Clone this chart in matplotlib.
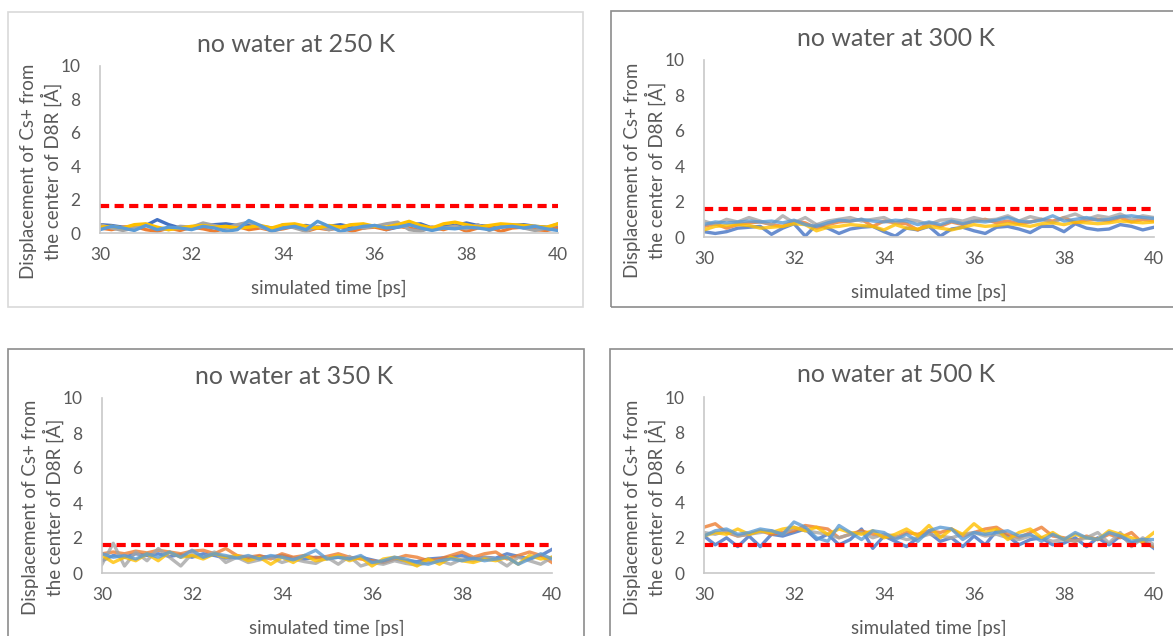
import numpy as np
import matplotlib
matplotlib.use("Agg")
import matplotlib.pyplot as plt
from matplotlib.patches import Rectangle

plt.rcParams['font.family'] = ['Lato', 'DejaVu Sans']

# tempo simulado (ps), passo de 0.25
tempo = np.linspace(30, 40, 41)
limite = 1.6  # linha vermelha tracejada

titulos = ["no water at 250 K", "no water at 300 K", "no water at 350 K", "no water at 500 K"]
cores = ["#4472C4", "#ED7D31", "#A5A5A5", "#FFC000", "#5B9BD5"]

# 250 K
k250_azul = [0.5,0.45,0.35,0.3,0.45,0.8,0.5,0.3,0.3,0.45,0.5,0.55,0.45,0.5,0.4,0.3,0.35,0.4,0.45,0.3,0.4,0.5,0.35,0.3,0.45,0.2,0.35,0.5,0.55,0.3,0.4,0.45,0.6,0.45,0.4,0.35,0.45,0.5,0.4,0.35,0.3]
k250_laranja = [0.3,0.2,0.35,0.4,0.2,0.1,0.3,0.15,0.35,0.25,0.1,0.3,0.4,0.2,0.3,0.15,0.25,0.4,0.1,0.3,0.2,0.35,0.1,0.3,0.35,0.2,0.4,0.3,0.15,0.35,0.2,0.4,0.1,0.3,0.35,0.1,0.3,0.35,0.2,0.15,0.3]
k250_cinza = [0.5,0.3,0.15,0.3,0.45,0.3,0.2,0.4,0.35,0.6,0.45,0.3,0.5,0.65,0.35,0.2,0.5,0.3,0.1,0.4,0.2,0.35,0.5,0.3,0.4,0.55,0.65,0.2,0.1,0.35,0.3,0.4,0.25,0.5,0.15,0.4,0.5,0.3,0.15,0.3,0.55]
k250_amarelo = [0.35,0.4,0.3,0.5,0.55,0.35,0.2,0.3,0.4,0.45,0.35,0.4,0.3,0.35,0.45,0.3,0.5,0.55,0.4,0.3,0.45,0.35,0.5,0.55,0.4,0.35,0.5,0.7,0.45,0.3,0.55,0.65,0.5,0.35,0.45,0.55,0.5,0.45,0.4,0.35,0.55]
k250_celeste = [0.2,0.4,0.3,0.15,0.45,0.2,0.35,0.3,0.2,0.4,0.3,0.1,0.2,0.75,0.45,0.1,0.3,0.4,0.2,0.7,0.4,0.1,0.25,0.4,0.45,0.3,0.35,0.5,0.3,0.15,0.3,0.25,0.35,0.3,0.2,0.35,0.4,0.3,0.4,0.25,0.15]

# 300 K
k300_azul = [0.3,0.2,0.3,0.5,0.55,0.6,0.15,0.5,0.75,0.05,0.7,0.5,0.2,0.45,0.55,0.6,0.3,0.05,0.5,0.4,0.6,0.05,0.45,0.55,0.35,0.2,0.55,0.6,0.45,0.25,0.6,0.6,0.3,0.75,0.5,0.4,0.45,0.7,0.6,0.4,0.55]
k300_laranja = [0.6,0.75,0.5,0.7,0.8,0.85,0.7,0.6,0.9,0.8,0.5,0.7,0.85,0.9,1.0,0.6,0.9,0.8,0.75,0.4,0.8,0.6,0.85,0.7,0.9,1.0,0.8,0.9,0.75,0.85,1.0,0.9,1.1,0.8,0.95,1.0,0.9,1.1,0.85,1.0,0.9]
k300_cinza = [0.9,0.7,1.0,0.85,1.1,0.9,0.7,1.2,0.8,1.1,0.7,0.9,1.0,1.1,0.9,1.0,1.1,0.8,1.0,0.9,0.7,0.95,1.0,0.9,1.1,0.95,1.0,1.2,0.9,1.15,1.0,0.8,1.1,1.3,1.0,1.2,1.1,1.3,1.0,1.2,1.1]
k300_amarelo = [0.4,0.6,0.65,0.7,0.65,0.5,0.55,0.6,0.75,0.7,0.35,0.55,0.6,0.7,0.65,0.6,0.4,0.7,0.5,0.45,0.6,0.5,0.4,0.55,0.7,0.6,0.65,0.75,0.7,0.6,0.75,0.8,0.7,0.85,0.8,0.75,0.8,0.9,0.85,0.8,0.85]
k300_celeste = [0.7,0.85,0.8,0.85,0.9,0.85,0.9,0.8,0.95,0.7,0.6,0.8,0.95,0.9,1.0,0.9,0.85,0.95,0.9,0.7,0.85,0.7,0.9,0.75,0.9,0.85,0.95,1.1,0.9,0.85,0.95,1.2,0.9,1.0,1.1,0.95,1.0,1.15,1.2,1.1,1.05]

# 350 K
k350_azul = [0.7,1.0,0.9,1.1,1.0,1.1,0.95,1.05,0.9,1.1,1.0,0.85,0.9,0.8,0.95,0.9,1.0,0.85,0.8,0.9,0.85,0.9,0.8,0.9,0.75,0.6,0.8,0.7,0.65,0.8,0.85,0.9,1.0,0.8,0.9,0.85,1.1,0.95,0.8,1.0,1.35]
k350_laranja = [1.1,1.2,1.1,1.25,1.15,1.3,1.2,1.1,1.25,1.3,1.1,1.4,1.0,0.9,1.0,0.8,1.1,0.9,1.0,0.85,0.95,1.1,0.9,0.8,0.7,0.6,0.8,1.0,0.9,0.7,0.8,1.0,1.2,0.9,1.1,1.2,0.8,1.0,1.2,1.0,0.6]
k350_cinza = [0.5,1.7,0.4,1.2,0.7,1.4,0.9,0.4,1.1,0.9,1.2,0.6,0.9,0.6,0.75,0.9,0.6,0.8,0.65,0.55,0.9,0.5,0.95,0.4,0.6,0.5,0.7,0.55,0.45,0.6,0.7,0.5,0.8,0.7,0.9,0.8,0.4,0.9,0.7,0.5,0.9]
k350_amarelo = [1.0,0.6,0.9,0.7,1.1,0.7,1.2,0.9,1.0,0.8,1.1,0.9,1.0,0.7,0.9,0.5,0.9,0.6,1.0,0.7,0.8,1.0,0.7,0.9,0.4,0.8,0.9,0.7,0.4,0.8,0.5,0.9,0.7,0.6,0.8,0.7,0.9,0.5,1.0,0.8,0.9]
k350_celeste = [1.1,0.9,1.0,0.8,1.1,0.9,1.2,0.9,1.3,0.9,1.1,1.0,0.85,1.0,0.8,1.0,0.9,0.75,1.0,1.3,0.8,0.9,0.8,1.0,0.6,0.7,0.9,0.8,0.6,0.5,0.7,0.8,0.7,0.85,0.7,0.8,0.9,0.5,0.8,1.1,0.8]

# 500 K
k500_azul = [2.1,1.6,2.0,1.5,2.1,1.5,2.2,2.1,2.3,2.5,1.9,2.2,1.6,1.9,2.5,1.4,2.1,1.8,1.5,2.0,2.3,1.8,2.0,1.5,2.1,1.6,2.4,2.1,1.6,1.9,2.0,1.6,1.7,2.0,1.5,2.0,1.6,2.1,1.7,1.9,1.4]
k500_laranja = [2.6,2.8,2.3,2.1,2.2,2.4,2.2,2.3,2.4,2.7,2.6,2.5,2.0,2.2,2.4,2.2,2.1,2.0,2.3,2.2,2.4,2.3,2.5,2.1,2.3,2.5,2.6,2.2,2.0,2.3,2.6,2.1,2.0,1.8,2.1,1.9,2.2,2.0,2.3,1.7,1.5]
k500_cinza = [2.3,2.2,2.4,2.1,2.2,2.3,2.4,2.2,2.6,2.4,2.3,2.2,2.0,2.2,2.3,2.0,2.2,2.1,1.9,2.0,2.2,2.1,2.0,2.2,2.3,2.1,2.2,2.0,1.9,2.1,2.0,1.8,1.9,1.8,2.0,2.3,1.7,2.3,1.5,2.0,1.6]
k500_amarelo = [2.1,2.3,2.2,2.5,2.2,2.4,2.3,2.5,2.6,2.4,2.6,2.2,2.5,2.3,2.2,2.4,2.0,2.2,2.5,2.1,2.7,2.0,2.5,2.2,2.8,2.3,2.5,1.9,2.3,2.5,2.0,2.3,1.9,2.2,2.0,1.9,2.4,2.2,2.0,1.8,2.3]
k500_celeste = [2.1,2.4,2.5,2.2,2.3,2.5,2.4,2.2,2.9,2.6,2.0,1.8,2.7,2.3,1.9,2.4,2.3,1.9,2.2,1.8,2.4,2.6,2.5,1.9,2.3,2.2,2.3,2.4,2.1,2.2,1.8,2.2,1.9,2.3,2.0,1.9,2.3,2.1,1.8,1.9,1.9]

series = [
    [k250_azul, k250_laranja, k250_cinza, k250_amarelo, k250_celeste],
    [k300_azul, k300_laranja, k300_cinza, k300_amarelo, k300_celeste],
    [k350_azul, k350_laranja, k350_cinza, k350_amarelo, k350_celeste],
    [k500_azul, k500_laranja, k500_cinza, k500_amarelo, k500_celeste],
]

W, H = 1173, 636
fig = plt.figure(figsize=(W / 100, H / 100), dpi=100)

# posicoes em pixels: (esq, dir, y0, y10) dos eixos e (x0, y0, x1, y1) das molduras
eixos_px = [(100, 558, 233, 66), (704, 1154, 237, 60), (102, 552, 573, 398), (704, 1154, 573, 397)]
caixas_px = [(8, 12, 583, 307), (611, 11, 1185, 307), (8, 349, 584, 650), (610, 349, 1185, 650)]
cor_caixa = ["#d9d9d9", "#8c8c8c", "#8c8c8c", "#8c8c8c"]

for i in range(4):
    bx0, by0, bx1, by1 = caixas_px[i]
    fig.patches.append(Rectangle((bx0 / W, 1 - by1 / H), (bx1 - bx0) / W, (by1 - by0) / H,
                                 transform=fig.transFigure, fill=False,
                                 edgecolor=cor_caixa[i], linewidth=1.2, clip_on=False))

    e, d, y0, y10 = eixos_px[i]
    ax = fig.add_axes([e / W, 1 - y0 / H, (d - e) / W, (y0 - y10) / H])
    alfa = 1.0 if i == 0 else 0.8
    for vals, c in zip(series[i], cores):
        ax.plot(tempo, vals, color=c, lw=2.4, alpha=alfa, solid_joinstyle="round")
    ax.plot([30, 40], [limite, limite], color="#FF0000", lw=3, linestyle=(0, (2.2, 1.3)))

    ax.set_xlim(30, 40)
    ax.set_ylim(0, 10)
    ax.set_xticks(range(30, 41, 2))
    ax.set_yticks(range(0, 11, 2))
    for s in ["top", "right"]:
        ax.spines[s].set_visible(False)
    for s in ["left", "bottom"]:
        ax.spines[s].set_color("#c8c8c8")
        ax.spines[s].set_linewidth(1.2)
    ax.tick_params(length=0, labelsize=12.5, labelcolor="#595959", pad=10)
    ax.tick_params(axis="y", pad=14)
    ax.patch.set_alpha(0)

    cx = (e + d) / 2
    fig.text(cx / W - 0.028, 1 - (y10 - 22) / H, titulos[i], ha="center", va="center",
             fontsize=18, color="#595959")
    fig.text(cx / W, 1 - (y0 + 55) / H, "simulated time [ps]", ha="center", va="center",
             fontsize=13.5, color="#595959")
    fig.text((e - 59) / W, 1 - ((y0 + y10) / 2 + 22) / H,
             "Displacement of Cs+ from\nthe center of D8R [Å]", ha="center", va="center",
             rotation=90, fontsize=13.5, color="#595959", linespacing=1.2)

fig.savefig("out.png", dpi=100)
